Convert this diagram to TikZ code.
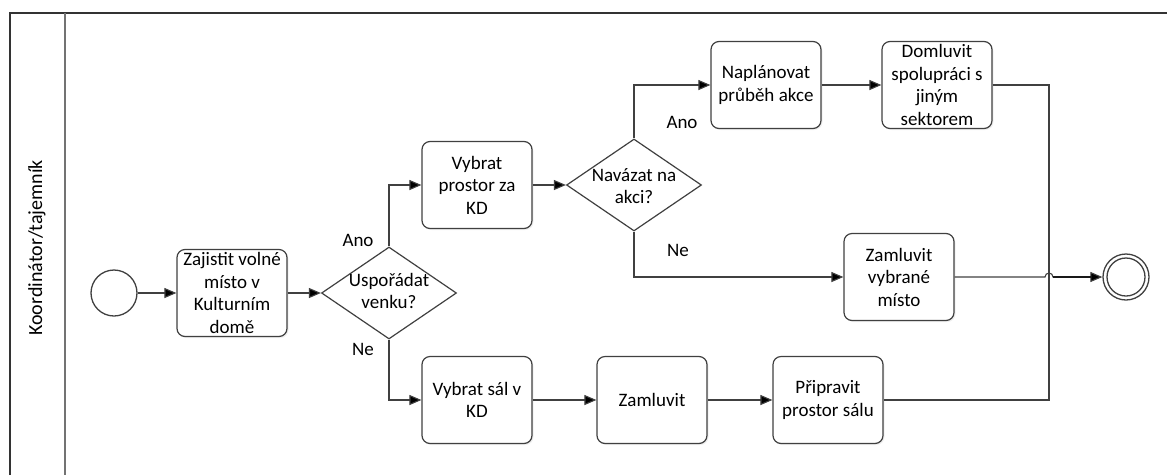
\documentclass[tikz,border=0pt]{standalone}
\usepackage{fontspec}
\setmainfont{Carlito}
\usetikzlibrary{arrows.meta,shapes.geometric,calc,shadows}
\newcommand{\bpmnfont}{\fontsize{19}{22.5}\selectfont}
\tikzset{
  task/.style={draw=black!75, line width=1.2pt, rounded corners=8pt, fill=white,
    minimum width=110pt, minimum height=87pt, inner sep=0pt, align=center, font=\bpmnfont,
    drop shadow={opacity=0.12, shadow xshift=1.5pt, shadow yshift=-1.5pt}},
  gateway/.style={draw=black!75, line width=1.2pt, diamond, fill=white,
    minimum width=135pt, minimum height=92pt, inner sep=0pt},
  event/.style={draw=black!75, line width=1.3pt, circle, fill=white, minimum size=46pt, inner sep=0pt},
  flowline/.style={draw=black!75, line width=1.1pt},
  flow/.style={flowline, -{Triangle[length=12pt,width=10pt,fill=black]}},
  lbl/.style={font=\bpmnfont, inner sep=0pt},
}
\begin{document}
\begin{tikzpicture}[x=1pt, y=-1pt]
\useasboundingbox (0,0) rectangle (1167,475);
%% pool and lane
\draw[line width=2pt, black!80] (10,475) -- (10,13) -- (1167,13);
\draw[line width=1.3pt, black!55] (65,13) -- (65,475);
\node[lbl, rotate=90, font=\fontsize{20}{24}\selectfont] (lane) at (37,248) {Koordinátor/tajemník};
%% events, tasks, gateways
\node[event] (start) at (114,293) {};
\node[task] (zajistit) at (232,293) {Zajistit volné\\místo v\\Kulturním\\domě};
\node[gateway] (venku) at (389,293) {};
\node[lbl, align=center] (venkutxt) at (389,291) {Uspořádat\\venku?};
\node[task] (prostor) at (477,185) {Vybrat\\prostor za\\KD};
\node[gateway] (navazat) at (634,185) {};
\node[lbl, align=center] (navazattxt) at (634,186) {Navázat na\\akci?};
\node[task] (planovat) at (766,85) {Naplánovat\\průběh akce};
\node[task] (domluvit) at (937,85) {Domluvit\\spolupráci s\\jiným\\sektorem};
\node[task] (vybrane) at (899,277) {Zamluvit\\vybrané\\místo};
\node[task] (sal) at (477,400) {Vybrat sál v\\KD};
\node[task] (zamluvit) at (652,400) {Zamluvit};
\node[task] (pripravit) at (828,400) {Připravit\\prostor sálu};
\node[event] (end) at (1126,277) {};
\draw[black!75, line width=1.3pt] (end.center) circle (19pt);
\coordinate (hop) at (1049,277);
%% sequence flows
\draw[flow] (start) -- (zajistit);
\draw[flow] (zajistit) -- (venku);
\draw[flow] (venku.north) |- (prostor.west);
\draw[flow] (venku.south) |- (sal.west);
\draw[flow] (prostor) -- (navazat);
\draw[flow] (navazat.north) |- (planovat.west);
\draw[flow] (navazat.south) |- (vybrane.west);
\draw[flow] (planovat) -- (domluvit);
\draw[flow] (sal) -- (zamluvit);
\draw[flow] (zamluvit) -- (pripravit);
\draw[flowline] (domluvit.east) -| (hop);
\draw[flowline] (pripravit.east) -| (hop);
\draw[flow] (vybrane.east) -- ($(hop)+(-4,0)$) arc[start angle=180, end angle=0, radius=4pt] -- (end);
\draw[flowline, line width=1.6pt, black!90] ($(hop)+(4,0)$) -- ($(end.west)+(-10,0)$);
%% labels
\node[lbl] (ano1) at (358,240) {Ano};
\node[lbl] (ne1) at (363,349) {Ne};
\node[lbl] (ano2) at (682,122) {Ano};
\node[lbl] (ne2) at (678,250) {Ne};
\end{tikzpicture}
\end{document}
